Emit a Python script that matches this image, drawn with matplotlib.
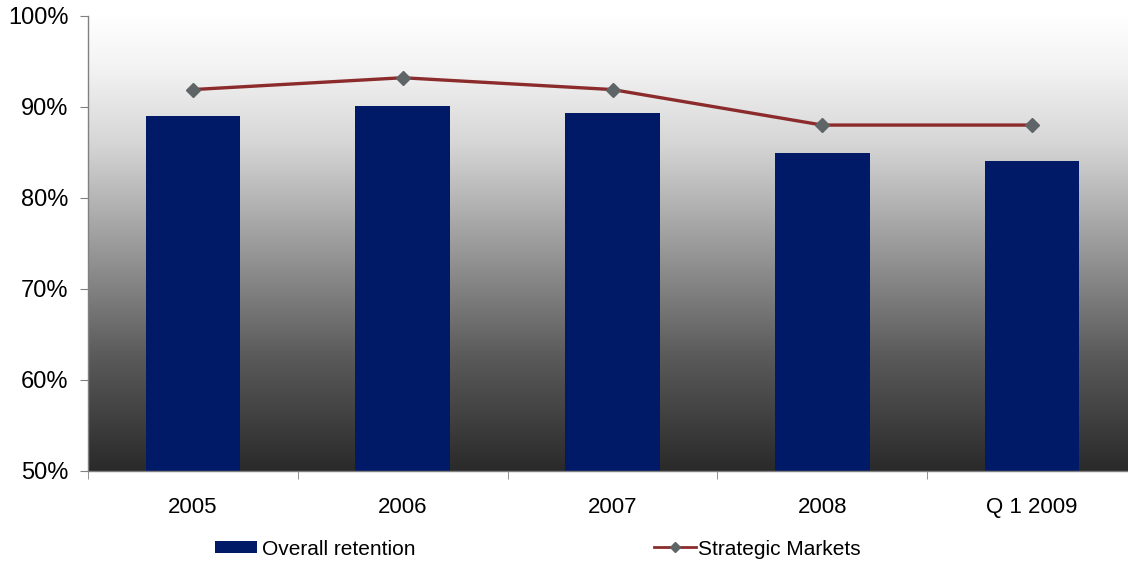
import matplotlib
matplotlib.use("Agg")
import matplotlib.pyplot as plt
import numpy as np
from matplotlib.colors import LinearSegmentedColormap
from matplotlib.ticker import FuncFormatter

categories = ["2005", "2006", "2007", "2008", "Q 1 2009"]
overall_retention = [89.0, 90.1, 89.3, 84.9, 84.0]
strategic_markets = [91.9, 93.2, 91.9, 88.0, 88.0]
y_ticks = [50, 60, 70, 80, 90, 100]

plt.rcParams['font.family'] = ['Liberation Sans', 'DejaVu Sans']

fig = plt.figure(figsize=(11.28, 5.66), dpi=100)
ax = fig.add_axes([0.078, 0.168, 0.93, 0.804])

x = np.arange(len(categories))
ax.set_xlim(-0.5, len(categories) - 0.5)
ax.set_ylim(50, 100)

# gradient background
cmap = LinearSegmentedColormap.from_list(
    "bg", [(0.0, "#2a2a2a"), (0.25, "#5a5a5a"), (0.5, "#9c9c9c"),
           (0.72, "#d6d6d6"), (0.88, "#f2f2f2"), (1.0, "#ffffff")])
grad = np.linspace(0, 1, 256).reshape(-1, 1)
ax.imshow(grad, cmap=cmap, aspect='auto', origin='lower',
          extent=[-0.5, len(categories) - 0.5, 50, 100], zorder=0)

bars = ax.bar(x, overall_retention, width=0.45, color="#001a68",
              zorder=2, label="Overall retention")
line, = ax.plot(x, strategic_markets, color="#8c2b2b", linewidth=2.4,
                marker="D", markersize=7, markerfacecolor="#5f6466",
                markeredgecolor="#5f6466", zorder=3, label="Strategic Markets")

ax.set_yticks(y_ticks)
ax.yaxis.set_major_formatter(FuncFormatter(lambda v, p: f"{v:.0f}%"))
ax.set_xticks(x)
ax.set_xticklabels(categories)
ax.set_xticks(np.arange(len(categories) + 1) - 0.5, minor=True)
ax.tick_params(axis='x', which='major', length=0, pad=19, labelsize=16)
ax.tick_params(axis='x', which='minor', length=6, color="#808080", direction='out')
ax.tick_params(axis='y', length=6, color="#808080", labelsize=17, pad=8)

for s in ["top", "right"]:
    ax.spines[s].set_visible(False)
for s in ["left", "bottom"]:
    ax.spines[s].set_color("#808080")
    ax.spines[s].set_linewidth(1.0)

leg1 = fig.legend(handles=[bars], labels=["Overall retention"], loc="center left",
                  bbox_to_anchor=(0.178, 0.03), frameon=False, fontsize=15,
                  handlelength=2.0, handleheight=0.55, handletextpad=0.25,
                  borderpad=0.2)
leg2 = fig.legend(handles=[line], labels=["Strategic Markets"], loc="center left",
                  bbox_to_anchor=(0.567, 0.03), frameon=False, fontsize=15,
                  handlelength=2.0, handletextpad=0.1, borderpad=0.2)
for h in leg2.legend_handles:
    h.set_markersize(5)
    h.set_linewidth(2)

fig.savefig("out.png", dpi=100)
